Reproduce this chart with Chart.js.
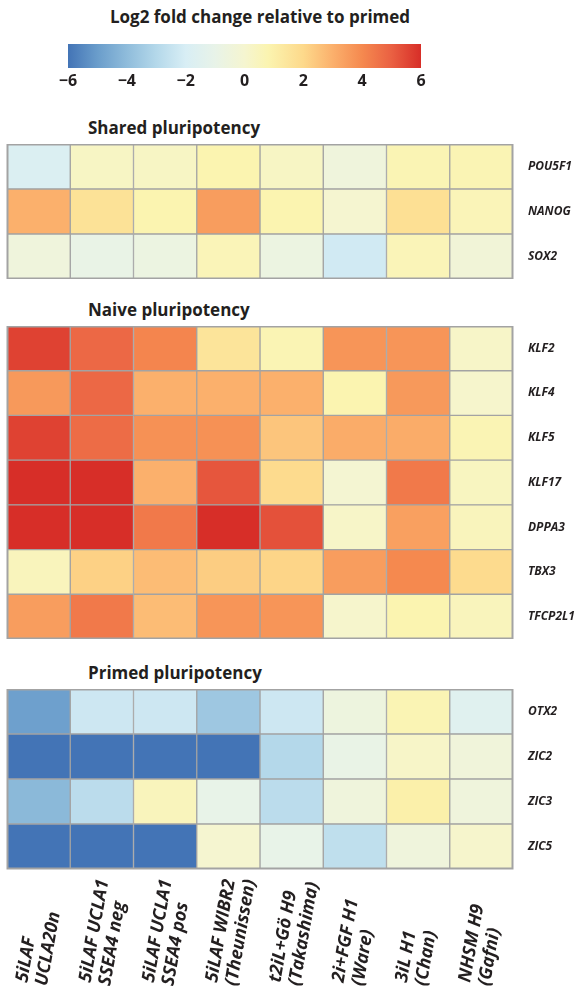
<!DOCTYPE html>
<html>
<head>
<meta charset="utf-8">
<script src="https://cdn.jsdelivr.net/npm/chart.js@4"></script>
<style>
  html, body { margin: 0; padding: 0; background: #fff; }
  body { width: 586px; height: 993px; position: relative; overflow: hidden; font-family: "Open Sans", sans-serif; color: #231f20; }
  .box { position: absolute; left: 0; width: 586px; }
  .ttl { position: absolute; font-weight: 700; font-size: 17px; white-space: nowrap; line-height: 1; }
</style>
</head>
<body>
<div class="ttl" id="mainTitle" style="left:0;width:520px;text-align:center;top:8px;font-size:17px;">Log2 fold change relative to primed</div>
<div class="box" style="top:0;height:100px;"><canvas id="cbar"></canvas></div>

<div class="ttl" style="left:88px;top:119px;">Shared pluripotency</div>
<div class="box" style="top:144px;height:135px;"><canvas id="shared"></canvas></div>

<div class="ttl" style="left:88px;top:301px;">Naive pluripotency</div>
<div class="box" style="top:326px;height:313px;"><canvas id="naive"></canvas></div>

<div class="ttl" style="left:88px;top:664px;">Primed pluripotency</div>
<div class="box" style="top:689px;height:304px;"><canvas id="primed"></canvas></div>

<script>
// ---------- data ----------
const columns = [
  ["5iLAF", "UCLA20n"],
  ["5iLAF UCLA1", "SSEA4 neg"],
  ["5iLAF UCLA1", "SSEA4 pos"],
  ["5iLAF WIBR2", "(Theunissen)"],
  ["t2iL+Gö H9", "(Takashima)"],
  ["2i+FGF H1", "(Ware)"],
  ["3iL H1", "(Chan)"],
  ["NHSM H9", "(Gafni)"]
];
const colorbarTicks = [-6, -4, -2, 0, 2, 4, 6];

const sharedGenes = ["POU5F1", "NANOG", "SOX2"];
const sharedValues = [
  [-1.8, 0.3, 0.3, 0.8, 0.3, -0.5, 0.7, 0.7],
  [ 3.0, 1.6, 0.8, 3.5, 0.8,  0.0, 1.7, 0.6],
  [-0.5,-0.9,-0.7, 0.6,-0.7, -2.2, 0.6,-0.3]
];

const naiveGenes = ["KLF2", "KLF4", "KLF5", "KLF17", "DPPA3", "TBX3", "TFCP2L1"];
const naiveValues = [
  [5.6, 4.8, 4.1, 1.5, 0.7, 3.7, 3.7, 0.2],
  [3.6, 4.8, 3.0, 3.0, 3.0, 0.8, 3.6, 0.1],
  [5.6, 4.7, 3.8, 3.8, 2.5, 3.1, 3.1, 0.7],
  [6.0, 6.0, 3.0, 5.2, 1.9,-0.1, 4.4, 0.4],
  [6.0, 6.0, 4.4, 6.0, 5.3, 0.2, 3.4, 0.5],
  [0.5, 2.2, 2.7, 2.3, 2.1, 3.5, 4.0, 1.9],
  [3.5, 4.4, 2.7, 3.7, 3.7, 0.1, 0.8, 0.5]
];

const primedGenes = ["OTX2", "ZIC2", "ZIC3", "ZIC5"];
const primedValues = [
  [-4.9, -2.3, -2.3, -3.6, -2.3, -0.6, 0.7, -1.5],
  [-6.0, -6.0, -6.0, -6.0, -3.0, -0.9, 0.2, -0.4],
  [-4.1, -2.8,  0.5, -1.0, -2.8, -0.5, 1.0, -0.5],
  [-6.0, -6.0, -6.0,  0.0, -1.0, -2.7, -0.5, 0.1]
];

// ---------- colour scale (style) ----------
const colorStops = [
  [-6, "#4374b6"], [-5, "#6a9dcb"], [-4, "#8fbcdb"], [-3, "#b4d8ea"],
  [-2, "#d8eef5"], [-1, "#e8f3e8"], [0, "#f5f5d0"], [0.8, "#fbf4b0"],
  [2, "#fdd98b"], [3, "#fbb06c"], [4, "#f5894f"], [5, "#ea6042"], [6, "#d72e28"]
];
function hex2rgb(h) { return [1,3,5].map(i => parseInt(h.substr(i,2),16)); }
function colorFor(v) {
  v = Math.max(-6, Math.min(6, v));
  for (let i = 0; i < colorStops.length - 1; i++) {
    const [a, ca] = colorStops[i], [b, cb] = colorStops[i+1];
    if (v >= a && v <= b) {
      const t = (v - a) / (b - a);
      const A = hex2rgb(ca), B = hex2rgb(cb);
      const c = A.map((x, k) => Math.round(x + (B[k] - x) * t));
      return `rgb(${c[0]},${c[1]},${c[2]})`;
    }
  }
  return colorStops[colorStops.length-1][1];
}

const TEXT = "#231f20";
const GRIDC = "#a3a3a3";

// ---------- colour bar ----------
new Chart(document.getElementById("cbar"), {
  type: "bar",
  data: {
    labels: [""],
    datasets: [{
      data: [[colorbarTicks[0], colorbarTicks[colorbarTicks.length-1]]],
      backgroundColor: (ctx) => {
        const ch = ctx.chart, area = ch.chartArea;
        if (!area) return "#fff";
        const xs = ch.scales.x;
        const g = ch.ctx.createLinearGradient(area.left, 0, area.right, 0);
        colorStops.forEach(([v, c]) => {
          g.addColorStop((xs.getPixelForValue(v) - area.left) / (area.right - area.left), c);
        });
        return g;
      },
      barPercentage: 1, categoryPercentage: 1, borderWidth: 0
    }]
  },
  options: {
    indexAxis: "y", responsive: true, maintainAspectRatio: false, animation: false,
    layout: { padding: { left: 68, right: 165, top: 44, bottom: 0 } },
    plugins: { legend: { display: false }, tooltip: { enabled: false } },
    scales: {
      y: { display: false },
      x: {
        type: "linear", min: colorbarTicks[0], max: colorbarTicks[colorbarTicks.length-1],
        afterBuildTicks: (s) => { s.ticks = colorbarTicks.map(v => ({ value: v })); },
        afterFit: (s) => { s.height = 32; s.paddingLeft = 0; s.paddingRight = 0; },
        grid: { display: false, drawTicks: false }, border: { display: false },
        ticks: {
          padding: 4, color: TEXT, font: { family: "Open Sans", weight: "bold", size: 16 },
          callback: (v) => (v < 0 ? "\u2212" + Math.abs(v) : String(v)), maxRotation: 0
        }
      }
    }
  }
});

// ---------- heatmap panels ----------
const outlinePlugin = {
  id: "outline",
  afterDatasetsDraw(chart) {
    const { ctx, chartArea: a } = chart;
    ctx.save();
    ctx.strokeStyle = GRIDC; ctx.lineWidth = 2;
    ctx.strokeRect(a.left + 0.5, a.top + 0.5, a.right - a.left - 1, a.bottom - a.top - 1);
    ctx.restore();
  }
};

const colLabelPlugin = {
  id: "colLabels",
  afterDraw(chart) {
    const { ctx, scales: { x } } = chart;
    const ang = -80 * Math.PI / 180;
    const lh = 20;
    const baseY = chart.height - 10;
    ctx.save();
    ctx.fillStyle = TEXT;
    ctx.font = "italic bold 18px 'Open Sans'";
    ctx.textAlign = "left"; ctx.textBaseline = "alphabetic";
    columns.forEach((lines, c) => {
      const cx = x.getPixelForValue(c + 0.5) - 11.5;
      lines.forEach((txt, i) => {
        ctx.save();
        ctx.translate(cx + i * lh * Math.sin(-ang), baseY + i * lh * Math.cos(ang));
        ctx.rotate(ang);
        ctx.fillText(txt, 0, 0);
        ctx.restore();
      });
    });
    ctx.restore();
  }
};

function heatmap(id, genes, values, extraPlugins, bottomPad) {
  const datasets = columns.map((_, c) => ({
    data: genes.map(() => [c, c + 1]),
    backgroundColor: values.map(row => colorFor(row[c])),
    borderColor: GRIDC, borderWidth: 1, borderSkipped: false,
    barPercentage: 1, categoryPercentage: 1, grouped: false
  }));
  return new Chart(document.getElementById(id), {
    type: "bar",
    data: { labels: genes, datasets },
    plugins: [outlinePlugin].concat(extraPlugins || []),
    options: {
      indexAxis: "y", responsive: true, maintainAspectRatio: false, animation: false,
      layout: { padding: { left: 7, right: 0, top: 0, bottom: bottomPad || 0 } },
      plugins: { legend: { display: false }, tooltip: { enabled: false } },
      scales: {
        x: { type: "linear", min: 0, max: columns.length, display: false },
        y: {
          position: "right",
          afterFit: (s) => { s.width = 73; s.paddingTop = 0; s.paddingBottom = 0; },
          grid: { display: false, drawTicks: false }, border: { display: false },
          ticks: { padding: 15, color: TEXT, font: { family: "Open Sans", weight: "bold", style: "italic", size: 12 } }
        }
      }
    }
  });
}

heatmap("shared", sharedGenes, sharedValues);
heatmap("naive", naiveGenes, naiveValues);
heatmap("primed", primedGenes, primedValues, [colLabelPlugin], 124);
</script>
</body>
</html>
